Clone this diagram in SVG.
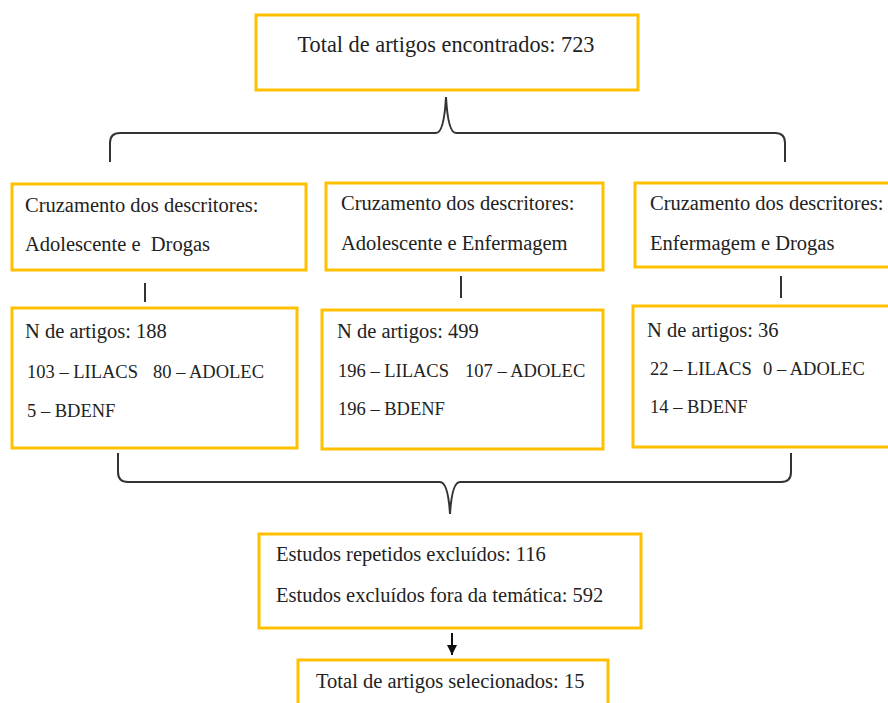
<svg xmlns="http://www.w3.org/2000/svg" width="888" height="703" viewBox="0 0 888 703">
<style>
.box{fill:#fff;stroke:#FFC000;stroke-width:3}
text{font-family:'Liberation Serif','Times New Roman','DejaVu Serif',serif;fill:#222}
.t{font-size:20.5px}
.s{font-size:18.5px}
.c{fill:none;stroke:#333;stroke-width:2}
</style>
<defs>
<marker id="ah" markerWidth="10" markerHeight="10" refX="10" refY="5" orient="auto" markerUnits="userSpaceOnUse" viewBox="0 0 10 10">
<path d="M0,0 L10,5 L0,10 Z" fill="#111"/>
</marker>
</defs>
<rect width="888" height="703" fill="#fff"/>
<g id="connectors">
<path class="c" d="M110,162 V143 Q110,133 120,133 H436 Q444,133 446,97 Q448,133 456,133 H775 Q785,133 785,143 V162"/>
<line class="c" x1="145" y1="283" x2="145" y2="302"/>
<line class="c" x1="461" y1="276" x2="461" y2="298"/>
<line class="c" x1="781" y1="276" x2="781" y2="298"/>
<path class="c" d="M118,453 V472 Q118,482 128,482 H440 Q448,482 450,514 Q452,482 460,482 H781 Q791,482 791,472 V453"/>
<line x1="452" y1="633" x2="452" y2="655" stroke="#111" stroke-width="2" marker-end="url(#ah)"/>
</g>
<g id="n-total">
<rect class="box" x="256" y="15" width="382" height="75"/>
<text class="t" x="446" y="52" text-anchor="middle" font-family="Liberation Serif, serif" style="font-size:22.3px">Total de artigos encontrados: 723</text>
</g>
<g id="n-cruz1">
<rect class="box" x="12" y="184" width="294" height="86"/>
<text class="t" x="25" y="212">Cruzamento dos descritores:</text>
<text class="t" x="25" y="251" xml:space="preserve">Adolescente e  Drogas</text>
</g>
<g id="n-cruz2">
<rect class="box" x="326" y="183" width="277" height="87"/>
<text class="t" x="341" y="210">Cruzamento dos descritores:</text>
<text class="t" x="341" y="250">Adolescente e Enfermagem</text>
</g>
<g id="n-cruz3">
<rect class="box" x="635" y="183" width="265" height="84"/>
<text class="t" x="650" y="210">Cruzamento dos descritores:</text>
<text class="t" x="650" y="250">Enfermagem e Drogas</text>
</g>
<g id="n-art1">
<rect class="box" x="12" y="308" width="285" height="140"/>
<text class="t" x="25" y="338">N de artigos: 188</text>
<text class="s" x="27" y="378">103 – LILACS</text>
<text class="s" x="153" y="378">80 – ADOLEC</text>
<text class="s" x="27" y="417">5 – BDENF</text>
</g>
<g id="n-art2">
<rect class="box" x="322" y="310" width="281" height="139"/>
<text class="t" x="337" y="338">N de artigos: 499</text>
<text class="s" x="338" y="377">196 – LILACS</text>
<text class="s" x="465" y="377">107 – ADOLEC</text>
<text class="s" x="338" y="415">196 – BDENF</text>
</g>
<g id="n-art3">
<rect class="box" x="633" y="306" width="267" height="141"/>
<text class="t" x="647" y="337">N de artigos: 36</text>
<text class="s" x="650" y="375">22 – LILACS</text>
<text class="s" x="763" y="375">0 – ADOLEC</text>
<text class="s" x="650" y="413">14 – BDENF</text>
</g>
<g id="n-excl">
<rect class="box" x="259" y="534" width="382" height="94"/>
<text class="t" x="276" y="561">Estudos repetidos excluídos: 116</text>
<text class="t" x="276" y="602">Estudos excluídos fora da temática: 592</text>
</g>
<g id="n-sel">
<rect class="box" x="298" y="660" width="310" height="70"/>
<text class="t" x="316" y="688">Total de artigos selecionados: 15</text>
</g>
</svg>
